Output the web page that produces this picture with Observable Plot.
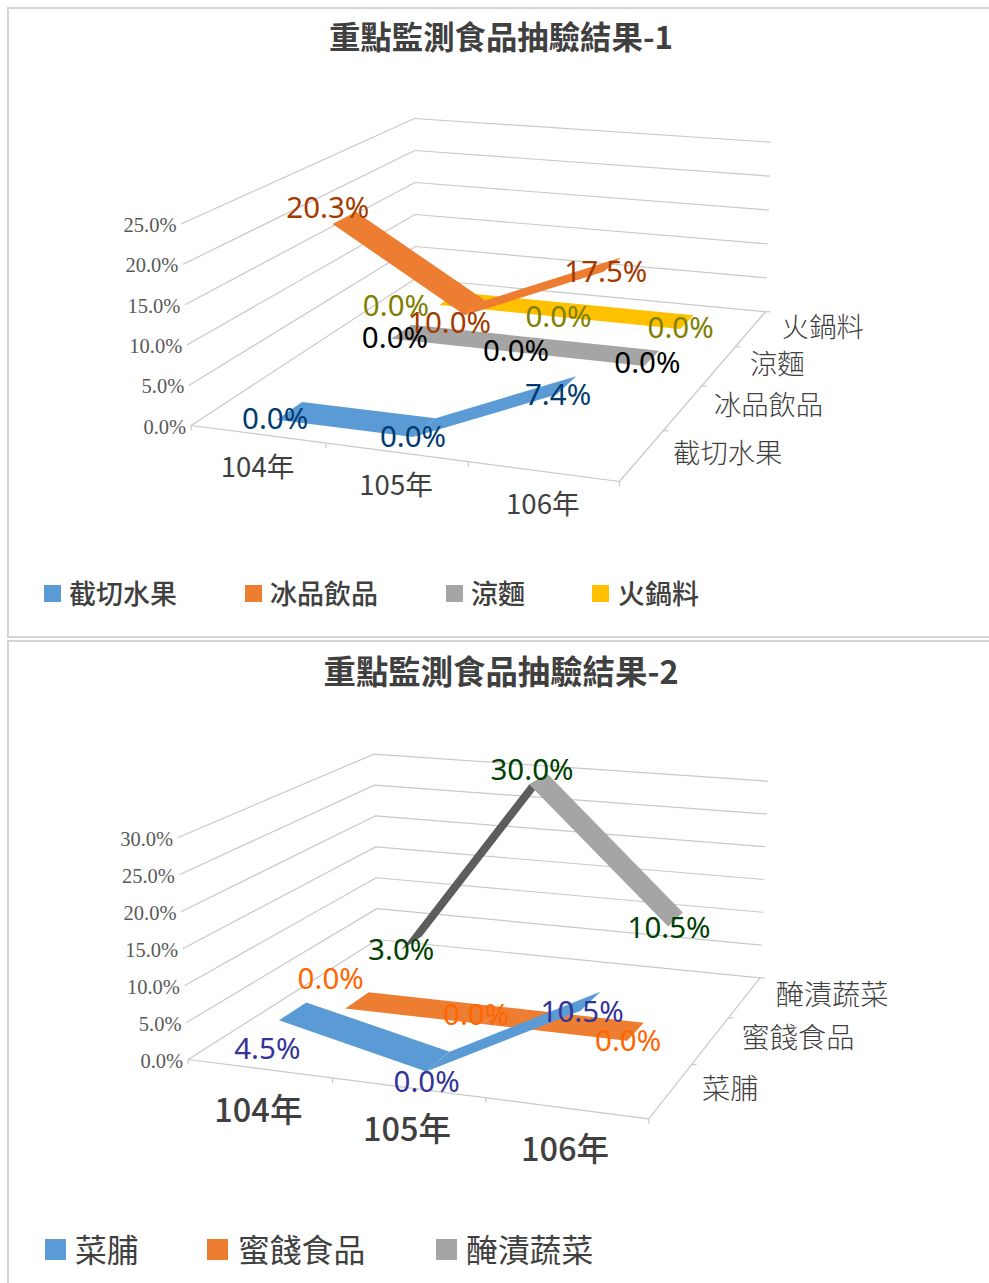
<!DOCTYPE html>
<html lang="zh-Hant">
<head>
<meta charset="utf-8">
<script src="https://cdn.jsdelivr.net/npm/d3@7"></script>
<script src="https://cdn.jsdelivr.net/npm/@observablehq/plot@0.6"></script>
<style>
html,body{margin:0;padding:0;background:#fff;width:989px;height:1283px;overflow:hidden;font-family:"Noto Sans CJK TC",sans-serif}
.frame{position:absolute;left:7px;width:982px;box-sizing:border-box;border-left:2px solid #d4d4d4;border-top:2px solid #d4d4d4}
.frame svg{position:absolute;left:0;top:0;overflow:visible;background:none}
.title{position:absolute;left:0;white-space:nowrap;color:#404040;font-weight:600;line-height:1;transform:translate(-50%,-50%)}
.leg{position:absolute;white-space:nowrap;color:#404040;line-height:1;transform:translateY(-50%)}
.sw{position:absolute}
</style>
</head>
<body>
<div id="root"></div>
<script>
// ---- data ----
const years = ["104年", "105年", "106年"];
const seriesA = ["截切水果", "冰品飲品", "涼麵", "火鍋料"];
const cutFruit = [0.0, 0.0, 7.4];
const iceDrink = [20.3, 10.0, 17.5];
const coldNoodle = [0.0, 0.0, 0.0];
const hotpot = [0.0, 0.0, 0.0];
const ticksA = [0, 5, 10, 15, 20, 25];
const seriesB = ["菜脯", "蜜餞食品", "醃漬蔬菜"];
const driedRadish = [4.5, 0.0, 10.5];
const candied = [0.0, 0.0, 0.0];
const pickled = [3.0, 30.0, 10.5];
const ticksB = [0, 5, 10, 15, 20, 25, 30];
const fills = ["#5b9bd5", "#ed7d31", "#a5a5a5", "#ffc000"];

// homography from the unit square onto a quadrilateral
function quad([p0, p1, p2, p3]) {
  const dx1 = p1[0]-p2[0], dx2 = p3[0]-p2[0], sx = p0[0]-p1[0]+p2[0]-p3[0];
  const dy1 = p1[1]-p2[1], dy2 = p3[1]-p2[1], sy = p0[1]-p1[1]+p2[1]-p3[1];
  const den = dx1*dy2-dx2*dy1;
  const g = (sx*dy2-dx2*sy)/den, h = (dx1*sy-sx*dy1)/den;
  const a = p1[0]-p0[0]+g*p1[0], b = p3[0]-p0[0]+h*p3[0];
  const d = p1[1]-p0[1]+g*p1[1], e = p3[1]-p0[1]+h*p3[1];
  return (u, v) => { const w = g*u+h*v+1; return [(a*u+b*v+p0[0])/w, (d*u+e*v+p0[1])/w]; };
}

function chart(cfg) {
  const floor = quad(cfg.floor), top = quad(cfg.top);
  const vmax = d3.max(cfg.ticks);
  const P = (u, dep, v) => {
    const f = floor(u, dep), t = top(u, dep), k = v / vmax;
    return [f[0]+(t[0]-f[0])*k, f[1]+(t[1]-f[1])*k];
  };
  const nC = years.length, nS = cfg.names.length;
  const uc = i => (i+0.5)/nC, dc = s => (s+0.5)/nS;
  const half = 0.2/nS;

  // ribbons, back series first
  const ribbons = [];
  for (let s = nS-1; s >= 0; s--) {
    const vals = cfg.values[s];
    for (let i = 0; i < nC-1; i++) {
      const a1 = P(uc(i), dc(s)-half, vals[i]), a2 = P(uc(i), dc(s)+half, vals[i]);
      const b1 = P(uc(i+1), dc(s)-half, vals[i+1]), b2 = P(uc(i+1), dc(s)+half, vals[i+1]);
      const cross = (b1[0]-a1[0])*(a2[1]-a1[1])-(b1[1]-a1[1])*(a2[0]-a1[0]);
      const fill = cross < 0 ? fills[s] : d3.rgb(fills[s]).darker(1.6).formatHex();
      const seg = `${s}-${i}`;
      ribbons.push({seg, fill, x1:a1[0], y1:a1[1], x2:a2[0], y2:a2[1]});
      ribbons.push({seg, fill, x1:b1[0], y1:b1[1], x2:b2[0], y2:b2[1]});
    }
  }
  // value grid on the two walls
  const grid = cfg.ticks.flatMap(v => [[0,0],[0,1],[1,1]].map(([u,dep]) => {
    const [x,y] = P(u,dep,v); return {v,x,y};
  }));
  const edge = [[0,0],[1,0],[1,1]].map(([u,dep]) => { const [x,y]=P(u,dep,0); return {x,y}; });
  const xt = d3.range(nC+1).map(i => { const [x,y]=P(i/nC,0,0); return {x,y}; });
  const dt = d3.range(1,nS+1).map(s => { const [x,y]=P(1,s/nS,0); return {x,y}; });
  const valueLabels = cfg.ticks.map(v => { const [x,y]=P(0,0,v); return {x,y,t:v.toFixed(1)+"%"}; });
  const yearLabels = years.map((t,i) => { const [x,y]=P(uc(i),0,0); return {x,y,t}; });
  const serLabels = cfg.names.map((t,s) => { const [x,y]=P(1,dc(s),0); return {x,y,t}; });
  const dataLabels = cfg.values.flatMap((vals,s) => vals.map((v,i) => {
    const [x,y]=P(uc(i),dc(s),v), n=cfg.nudge[s][i];
    return {x:x+n[0],y:y+n[1],t:v.toFixed(1)+"%",c:cfg.labelColors[s]};
  }));
  const F = '"Noto Sans CJK TC",sans-serif';
  const svg = Plot.plot({
    width: cfg.W, height: cfg.H, margin: 0,
    style: {background:"none"},
    x: {domain:[cfg.ox, cfg.ox+cfg.W], range:[0,cfg.W], axis:null},
    y: {domain:[cfg.oy, cfg.oy+cfg.H], range:[0,cfg.H], axis:null},
    marks: [
      Plot.line(grid,{x:"x",y:"y",z:"v",stroke:"#c9c9c9",strokeWidth:1.2}),
      Plot.line(edge,{x:"x",y:"y",stroke:"#c9c9c9",strokeWidth:1.2}),
      Plot.link(xt,{x1:"x",y1:"y",x2:"x",y2:d=>d.y+5,stroke:"#c9c9c9",strokeWidth:1.2}),
      Plot.link(dt,{x1:"x",y1:"y",x2:d=>d.x+5,y2:"y",stroke:"#c9c9c9",strokeWidth:1.2}),
      Plot.area(ribbons,{x1:"x1",y1:"y1",x2:"x2",y2:"y2",z:"seg",fill:"fill"}),
      Plot.text(valueLabels,{x:d=>d.x-5,y:d=>d.y+1.5,text:"t",textAnchor:"end",fontFamily:'"Liberation Serif",serif',fontSize:20.5,fill:"#595959"}),
      Plot.text(yearLabels,{x:d=>d.x+cfg.yearDx,y:d=>d.y+cfg.yearDy,text:"t",fontFamily:F,fontSize:cfg.yearSize,fontWeight:cfg.yearWeight,fill:"#404040"}),
      Plot.text(serLabels,{x:d=>d.x+cfg.serDx,y:d=>d.y-1,text:"t",textAnchor:"start",fontFamily:F,fontSize:cfg.serSize,fontWeight:300,fill:"#404040"}),
      Plot.text(dataLabels,{x:"x",y:"y",text:"t",fill:"c",fontFamily:'"Noto Sans",sans-serif',fontSize:29.5})
    ]
  });
  const fr = document.createElement("div");
  fr.className = "frame";
  fr.style.top = cfg.fy+"px";
  fr.style.height = cfg.fh+"px";
  if (cfg.closed) fr.style.borderBottom = "2px solid #d4d4d4";
  svg.style.left = (cfg.ox-9)+"px";
  svg.style.top = (cfg.oy-cfg.fy-2)+"px";
  fr.appendChild(svg);
  const abs = (el,x,y) => { el.style.left=(x-9)+"px"; el.style.top=(y-cfg.fy-2)+"px"; fr.appendChild(el); };
  const ti = document.createElement("div");
  ti.className="title"; ti.textContent=cfg.title; ti.style.fontSize=cfg.titleSize+"px";
  abs(ti,cfg.titleX,cfg.titleY-2);
  cfg.names.forEach((n,s) => {
    const sw=document.createElement("div"); sw.className="sw";
    sw.style.width=cfg.swW+"px"; sw.style.height=cfg.swH+"px"; sw.style.background=fills[s];
    abs(sw,cfg.swX[s],cfg.swY);
    const t=document.createElement("div"); t.className="leg"; t.textContent=n;
    t.style.fontSize=cfg.legSize+"px"; t.style.fontWeight=cfg.legWeight;
    abs(t,cfg.legX[s],cfg.legY);
  });
  document.getElementById("root").appendChild(fr);
}

chart({
  title:"重點監測食品抽驗結果-1", titleSize:31.4, titleX:501, titleY:38,
  names:seriesA, values:[cutFruit,iceDrink,coldNoodle,hotpot], ticks:ticksA,
  floor:[[190.7,425],[619,481],[765,311.3],[415,278]],
  top:[[181,223.3],[621,271],[770,141.7],[414,118]],
  labelColors:["#003a70","#a33a00","#000000","#808000"],
  nudge:[[[-15,8],[-12,9.5],[-9,9.5]],[[-17,-10],[-26,15],[-7,8]],[[-7,6],[-8,6],[-5,5]],[[-53,8],[-7,7],[-7,6]]],
  yearSize:27.6, yearWeight:400, yearDy:34, yearDx:0, serSize:27.3, serDx:31,
  swX:[44,245,446,592], swY:585, legX:[69,270,471,618], legY:592, swW:17, swH:17, legSize:27, legWeight:500,
  fy:7, fh:631, closed:true, ox:9, oy:9, W:980, H:628
});
chart({
  title:"重點監測食品抽驗結果-2", titleSize:32.4, titleX:501, titleY:672,
  names:seriesB, values:[driedRadish,candied,pickled], ticks:ticksB,
  floor:[[187.7,1059],[648.3,1118.3],[759.5,977.3],[377,939]],
  top:[[177.7,837],[651,882],[767.3,780.7],[373.3,753.7]],
  labelColors:["#333399","#ff6600","#004000"],
  nudge:[[[-26,38],[-12,21],[-9,11]],[[-27,-21],[-17,0],[-8,10]],[[-11,7],[-7,-9],[-7,9]]],
  yearSize:32.5, yearWeight:500, yearDy:42.5, yearDx:-1, serSize:28.2, serDx:31,
  swX:[45,207,436], swY:1239, legX:[75,238,466], legY:1249, swW:21, swH:21, legSize:31.8, legWeight:400,
  fy:640, fh:643, ox:9, oy:642, W:980, H:641
});
</script>
</body>
</html>
